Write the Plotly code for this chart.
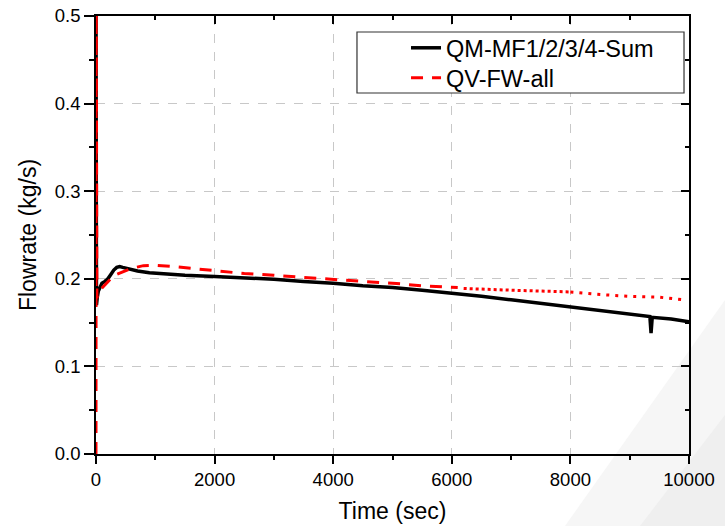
import plotly.graph_objects as go

# ---- data ----
black_t = [0, 8, 20, 40, 70, 100, 150, 200, 250, 300, 350, 400, 450, 550, 700, 900,
           1200, 1500, 2000, 2500, 3000, 3500, 4000, 4500, 5000, 5500, 6000, 6500,
           7000, 7500, 8000, 8500, 9000, 9340, 9360, 9380, 9700, 10000]
black_v = [0.52, 0.17, 0.178, 0.186, 0.192, 0.195, 0.197, 0.200, 0.205, 0.210, 0.213,
           0.214, 0.213, 0.211, 0.209, 0.207, 0.205, 0.204, 0.2025, 0.201, 0.1995,
           0.197, 0.195, 0.192, 0.190, 0.187, 0.184, 0.180, 0.176, 0.172, 0.167,
           0.163, 0.159, 0.157, 0.138, 0.156, 0.154, 0.151]

red_t = [0, 3, 15, 40, 80, 150, 250, 350, 450, 600, 800, 1000, 1300, 1600, 2000,
         2500, 3000, 3500, 4000, 4500, 5000, 5500, 6100]
red_v = [0.0, 0.55, 0.178, 0.185, 0.188, 0.193, 0.200, 0.205, 0.208, 0.212, 0.215,
         0.2155, 0.214, 0.212, 0.209, 0.206, 0.204, 0.2015, 0.199, 0.197, 0.195,
         0.192, 0.190]
red_dense_t = [6200, 6500, 7000, 7500, 8000]
red_dense_v = [0.189, 0.188, 0.187, 0.186, 0.185]
red_sparse_t = [8000, 8500, 9000, 9500, 9900]
red_sparse_v = [0.185, 0.182, 0.180, 0.179, 0.176]

x_ticks = [0, 2000, 4000, 6000, 8000, 10000]
x_tick_text = ["0", "2000", "4000", "6000", "8000", "10000"]
y_ticks = [0.0, 0.1, 0.2, 0.3, 0.4, 0.5]
y_tick_text = ["0.0", "0.1", "0.2", "0.3", "0.4", "0.5"]

FONT = "Liberation Sans, Arial, sans-serif"
RED = "#ff0000"

fig = go.Figure()
fig.add_trace(go.Scatter(x=black_t, y=black_v, mode="lines", name="QM-MF1/2/3/4-Sum",
                         line=dict(color="black", width=3.5), legend="legend"))
fig.add_trace(go.Scatter(x=red_t, y=red_v, mode="lines", name="QV-FW-all",
                         line=dict(color=RED, width=3, dash="12px,9px"), legend="legend2"))
fig.add_trace(go.Scatter(x=red_dense_t, y=red_dense_v, mode="lines", showlegend=False,
                         line=dict(color=RED, width=3, dash="3px,3px")))
fig.add_trace(go.Scatter(x=red_sparse_t, y=red_sparse_v, mode="lines", showlegend=False,
                         line=dict(color=RED, width=3, dash="3px,6px")))
# invisible trace to host the mirrored (inward-tick) top/right axes
fig.add_trace(go.Scatter(x=[None], y=[None], xaxis="x2", yaxis="y2", showlegend=False,
                         hoverinfo="skip"))

axis_common = dict(showline=True, linecolor="black", linewidth=1.5,
                   tickfont=dict(family=FONT, size=18.5, color="black"),
                   tickcolor="black", tickwidth=1.5, zeroline=False, automargin=False)

legend_common = dict(xanchor="left", yanchor="middle", bgcolor="rgba(0,0,0,0)",
                     borderwidth=0, font=dict(family=FONT, size=23.5, color="black"))

fig.update_layout(
    width=725, height=526,
    margin=dict(l=96, r=36, t=16, b=72),
    paper_bgcolor="white", plot_bgcolor="rgba(0,0,0,0)",
    font=dict(family=FONT, color="black"),
    xaxis=dict(range=[0, 10000], tickvals=x_ticks, ticktext=x_tick_text,
               ticks="outside", ticklen=8,
               mirror=True, showgrid=True, gridcolor="#c8c8c8", griddash="dash",
               gridwidth=1,
               minor=dict(dtick=1000, ticks="outside", ticklen=4, tickcolor="black",
                          tickwidth=1.5, showgrid=False),
               title=dict(text="Time (sec)", font=dict(family=FONT, size=23), standoff=14),
               **axis_common),
    yaxis=dict(range=[0, 0.5], tickvals=y_ticks, ticktext=y_tick_text, ticks="outside",
               ticklen=10, mirror=True, showgrid=True, gridcolor="#c8c8c8",
               griddash="dash", gridwidth=1,
               minor=dict(dtick=0.05, ticks="outside", ticklen=5, tickcolor="black",
                          tickwidth=1.5, showgrid=False),
               title=dict(text="Flowrate (kg/s)", font=dict(family=FONT, size=23),
                          standoff=12),
               **axis_common),
    xaxis2=dict(range=[0, 10000], overlaying="x", side="top", anchor="y2",
                tickvals=x_ticks, ticks="inside", ticklen=8, tickcolor="black",
                tickwidth=1.5, showticklabels=False, showgrid=False, showline=False,
                zeroline=False,
                minor=dict(dtick=1000, ticks="inside", ticklen=4, tickcolor="black",
                           tickwidth=1.5, showgrid=False)),
    yaxis2=dict(range=[0, 0.5], overlaying="y", side="right", anchor="x2",
                tickvals=y_ticks, ticks="inside", ticklen=8, tickcolor="black",
                tickwidth=1.5, showticklabels=False, showgrid=False, showline=False,
                zeroline=False,
                minor=dict(dtick=0.05, ticks="inside", ticklen=4, tickcolor="black",
                           tickwidth=1.5, showgrid=False)),
    legend=dict(x=0.5228, y=0.9269, **legend_common),
    legend2=dict(x=0.5228, y=0.8584, **legend_common),
    showlegend=True,
)

# legend frame (white box with thin dark border)
fig.add_shape(type="rect", xref="paper", yref="paper",
              x0=0.4401, x1=0.9916, y0=0.8242, y1=0.9635,
              fillcolor="white", line=dict(color="#333333", width=1.2), layer="above")

# faint decorative background swoosh in the lower-right corner
def px_to_paper(px, py):
    return (px - 96) / 593.0, (454 - py) / 438.0

pts1 = [px_to_paper(565, 526), px_to_paper(725, 300), px_to_paper(725, 526)]
pts2 = [px_to_paper(640, 526), px_to_paper(725, 415), px_to_paper(725, 526)]
for pts, col in ((pts1, "#f6f6f6"), (pts2, "#efefef")):
    path = "M " + " L ".join(f"{x:.4f},{y:.4f}" for x, y in pts) + " Z"
    fig.add_shape(type="path", path=path, xref="paper", yref="paper",
                  fillcolor=col, line=dict(width=0), layer="below")

fig.write_html("out.html")
